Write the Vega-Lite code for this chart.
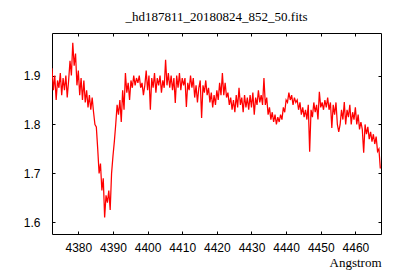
{
  "$schema": "https://vega.github.io/schema/vega-lite/v6.json",
  "width": 329,
  "height": 201,
  "autosize": {"type": "none"},
  "padding": {"left": 52, "top": 33, "right": 19, "bottom": 46},
  "background": "white",
  "title": {"text": "_hd187811_20180824_852_50.fits", "font": "Liberation Serif", "fontSize": 13, "fontWeight": "normal", "color": "black", "offset": 9},
  "config": {
    "view": {"stroke": "black", "strokeWidth": 1},
    "axis": {"domain": false, "grid": false, "tickColor": "black", "tickSize": -3, "labelColor": "black", "labelFont": "Liberation Sans", "labelFontSize": 12, "labelFontWeight": "normal"}
  },
  "data": {"values": [
    {"w":4372.4,"f":1.915},{"w":4372.8,"f":1.87},{"w":4373.2,"f":1.90},{"w":4373.6,"f":1.85},{"w":4374.0,"f":1.89},{"w":4374.4,"f":1.875},{"w":4374.8,"f":1.905},{"w":4375.2,"f":1.86},{"w":4375.6,"f":1.895},{"w":4376.0,"f":1.87},
    {"w":4376.4,"f":1.90},{"w":4376.8,"f":1.855},{"w":4377.2,"f":1.89},{"w":4377.6,"f":1.93},{"w":4378.0,"f":1.90},{"w":4378.4,"f":1.967},{"w":4378.8,"f":1.92},{"w":4379.2,"f":1.945},{"w":4379.6,"f":1.88},{"w":4380.0,"f":1.91},
    {"w":4380.4,"f":1.86},{"w":4380.8,"f":1.895},{"w":4381.2,"f":1.85},{"w":4381.6,"f":1.89},{"w":4382.0,"f":1.845},{"w":4382.4,"f":1.87},{"w":4382.8,"f":1.835},{"w":4383.2,"f":1.86},{"w":4383.6,"f":1.83},{"w":4384.0,"f":1.855},
    {"w":4384.4,"f":1.825},{"w":4384.8,"f":1.80},{"w":4385.2,"f":1.795},{"w":4385.6,"f":1.75},{"w":4386.0,"f":1.70},{"w":4386.4,"f":1.72},{"w":4386.8,"f":1.665},{"w":4387.2,"f":1.69},{"w":4387.6,"f":1.61},{"w":4388.0,"f":1.655},
    {"w":4388.4,"f":1.64},{"w":4388.8,"f":1.665},{"w":4389.2,"f":1.625},{"w":4389.6,"f":1.70},{"w":4390.0,"f":1.735},{"w":4390.4,"f":1.765},{"w":4390.8,"f":1.80},{"w":4391.2,"f":1.84},{"w":4391.6,"f":1.82},{"w":4392.0,"f":1.85},
    {"w":4392.4,"f":1.805},{"w":4392.8,"f":1.87},{"w":4393.2,"f":1.83},{"w":4393.6,"f":1.905},{"w":4394.0,"f":1.865},{"w":4394.4,"f":1.885},{"w":4394.8,"f":1.85},{"w":4395.2,"f":1.89},{"w":4395.6,"f":1.875},{"w":4396.0,"f":1.90},
    {"w":4396.4,"f":1.88},{"w":4396.8,"f":1.895},{"w":4397.2,"f":1.885},{"w":4397.6,"f":1.90},{"w":4398.0,"f":1.875},{"w":4398.4,"f":1.885},{"w":4398.8,"f":1.86},{"w":4399.2,"f":1.88},{"w":4399.6,"f":1.91},{"w":4400.0,"f":1.87},
    {"w":4400.4,"f":1.90},{"w":4400.8,"f":1.83},{"w":4401.2,"f":1.895},{"w":4401.6,"f":1.875},{"w":4402.0,"f":1.905},{"w":4402.4,"f":1.865},{"w":4402.8,"f":1.895},{"w":4403.2,"f":1.88},{"w":4403.6,"f":1.90},{"w":4404.0,"f":1.865},
    {"w":4404.4,"f":1.89},{"w":4404.8,"f":1.875},{"w":4405.2,"f":1.932},{"w":4405.6,"f":1.88},{"w":4406.0,"f":1.905},{"w":4406.4,"f":1.875},{"w":4406.8,"f":1.90},{"w":4407.2,"f":1.87},{"w":4407.6,"f":1.895},{"w":4408.0,"f":1.844},
    {"w":4408.4,"f":1.90},{"w":4408.8,"f":1.875},{"w":4409.2,"f":1.905},{"w":4409.6,"f":1.87},{"w":4410.0,"f":1.895},{"w":4410.4,"f":1.88},{"w":4410.8,"f":1.895},{"w":4411.2,"f":1.836},{"w":4411.6,"f":1.885},{"w":4412.0,"f":1.87},
    {"w":4412.4,"f":1.90},{"w":4412.8,"f":1.875},{"w":4413.2,"f":1.895},{"w":4413.6,"f":1.855},{"w":4414.0,"f":1.88},{"w":4414.4,"f":1.845},{"w":4414.8,"f":1.875},{"w":4415.2,"f":1.89},{"w":4415.6,"f":1.813},{"w":4416.0,"f":1.88},
    {"w":4416.4,"f":1.865},{"w":4416.8,"f":1.89},{"w":4417.2,"f":1.86},{"w":4417.6,"f":1.875},{"w":4418.0,"f":1.845},{"w":4418.4,"f":1.865},{"w":4418.8,"f":1.835},{"w":4419.2,"f":1.86},{"w":4419.6,"f":1.84},{"w":4420.0,"f":1.87},
    {"w":4420.4,"f":1.85},{"w":4420.8,"f":1.885},{"w":4421.2,"f":1.86},{"w":4421.6,"f":1.905},{"w":4422.0,"f":1.86},{"w":4422.4,"f":1.885},{"w":4422.8,"f":1.855},{"w":4423.2,"f":1.865},{"w":4423.6,"f":1.84},{"w":4424.0,"f":1.855},
    {"w":4424.4,"f":1.83},{"w":4424.8,"f":1.85},{"w":4425.2,"f":1.825},{"w":4425.6,"f":1.86},{"w":4426.0,"f":1.835},{"w":4426.4,"f":1.875},{"w":4426.8,"f":1.84},{"w":4427.2,"f":1.855},{"w":4427.6,"f":1.825},{"w":4428.0,"f":1.86},
    {"w":4428.4,"f":1.835},{"w":4428.8,"f":1.855},{"w":4429.2,"f":1.83},{"w":4429.6,"f":1.86},{"w":4430.0,"f":1.835},{"w":4430.4,"f":1.865},{"w":4430.8,"f":1.82},{"w":4431.2,"f":1.855},{"w":4431.6,"f":1.84},{"w":4432.0,"f":1.87},
    {"w":4432.4,"f":1.845},{"w":4432.8,"f":1.86},{"w":4433.2,"f":1.84},{"w":4433.6,"f":1.895},{"w":4434.0,"f":1.84},{"w":4434.4,"f":1.855},{"w":4434.8,"f":1.82},{"w":4435.2,"f":1.835},{"w":4435.6,"f":1.81},{"w":4436.0,"f":1.825},
    {"w":4436.4,"f":1.805},{"w":4436.8,"f":1.82},{"w":4437.2,"f":1.80},{"w":4437.6,"f":1.815},{"w":4438.0,"f":1.805},{"w":4438.4,"f":1.82},{"w":4438.8,"f":1.81},{"w":4439.2,"f":1.835},{"w":4439.6,"f":1.825},{"w":4440.0,"f":1.85},
    {"w":4440.4,"f":1.845},{"w":4440.8,"f":1.865},{"w":4441.2,"f":1.85},{"w":4441.6,"f":1.86},{"w":4442.0,"f":1.84},{"w":4442.4,"f":1.855},{"w":4442.8,"f":1.845},{"w":4443.2,"f":1.85},{"w":4443.6,"f":1.83},{"w":4444.0,"f":1.845},
    {"w":4444.4,"f":1.82},{"w":4444.8,"f":1.835},{"w":4445.2,"f":1.815},{"w":4445.6,"f":1.83},{"w":4446.0,"f":1.81},{"w":4446.4,"f":1.84},{"w":4446.8,"f":1.744},{"w":4447.2,"f":1.83},{"w":4447.6,"f":1.815},{"w":4448.0,"f":1.845},
    {"w":4448.4,"f":1.825},{"w":4448.8,"f":1.84},{"w":4449.2,"f":1.81},{"w":4449.6,"f":1.867},{"w":4450.0,"f":1.835},{"w":4450.4,"f":1.845},{"w":4450.8,"f":1.83},{"w":4451.2,"f":1.85},{"w":4451.6,"f":1.835},{"w":4452.0,"f":1.855},
    {"w":4452.4,"f":1.83},{"w":4452.8,"f":1.845},{"w":4453.2,"f":1.793},{"w":4453.6,"f":1.84},{"w":4454.0,"f":1.82},{"w":4454.4,"f":1.845},{"w":4454.8,"f":1.80},{"w":4455.2,"f":1.785},{"w":4455.6,"f":1.80},{"w":4456.0,"f":1.83},
    {"w":4456.4,"f":1.81},{"w":4456.8,"f":1.846},{"w":4457.2,"f":1.80},{"w":4457.6,"f":1.83},{"w":4458.0,"f":1.815},{"w":4458.4,"f":1.84},{"w":4458.8,"f":1.80},{"w":4459.2,"f":1.825},{"w":4459.6,"f":1.81},{"w":4460.0,"f":1.835},
    {"w":4460.4,"f":1.80},{"w":4460.8,"f":1.82},{"w":4461.2,"f":1.79},{"w":4461.6,"f":1.805},{"w":4462.0,"f":1.79},{"w":4462.4,"f":1.742},{"w":4462.8,"f":1.80},{"w":4463.2,"f":1.78},{"w":4463.6,"f":1.795},{"w":4464.0,"f":1.77},
    {"w":4464.4,"f":1.785},{"w":4464.8,"f":1.765},{"w":4465.2,"f":1.78},{"w":4465.6,"f":1.76},{"w":4466.0,"f":1.775},{"w":4466.4,"f":1.745},{"w":4466.8,"f":1.75},{"w":4467.2,"f":1.71}
  ]},
  "layer": [
    {
      "mark": {"type": "line", "color": "#ff0000", "strokeWidth": 1.25, "clip": true},
      "encoding": {
        "x": {"field": "w", "type": "quantitative", "scale": {"domain": [4372.4, 4467.4], "nice": false, "zero": false},
              "axis": {"orient": "bottom", "values": [4380,4390,4400,4410,4420,4430,4440,4450,4460], "format": "d", "labelPadding": 11,
                       "title": "Angstrom", "titleAnchor": "end", "titleAlign": "right", "titleFont": "Liberation Serif", "titleFontSize": 13, "titleFontWeight": "normal", "titleColor": "black", "titlePadding": 3}},
        "y": {"field": "f", "type": "quantitative", "scale": {"domain": [1.576, 1.987], "nice": false, "zero": false},
              "axis": {"orient": "left", "values": [1.6,1.7,1.8,1.9], "format": ".1f", "labelPadding": 15, "title": null}}
      }
    },
    {
      "mark": {"type": "line", "strokeOpacity": 0, "clip": true},
      "encoding": {
        "x": {"field": "w", "type": "quantitative", "axis": {"orient": "top", "values": [4380,4390,4400,4410,4420,4430,4440,4450,4460], "labels": false, "title": null}},
        "y": {"field": "f", "type": "quantitative", "axis": {"orient": "right", "values": [1.6,1.7,1.8,1.9], "labels": false, "title": null}}
      }
    }
  ],
  "resolve": {"axis": {"x": "independent", "y": "independent"}}
}
